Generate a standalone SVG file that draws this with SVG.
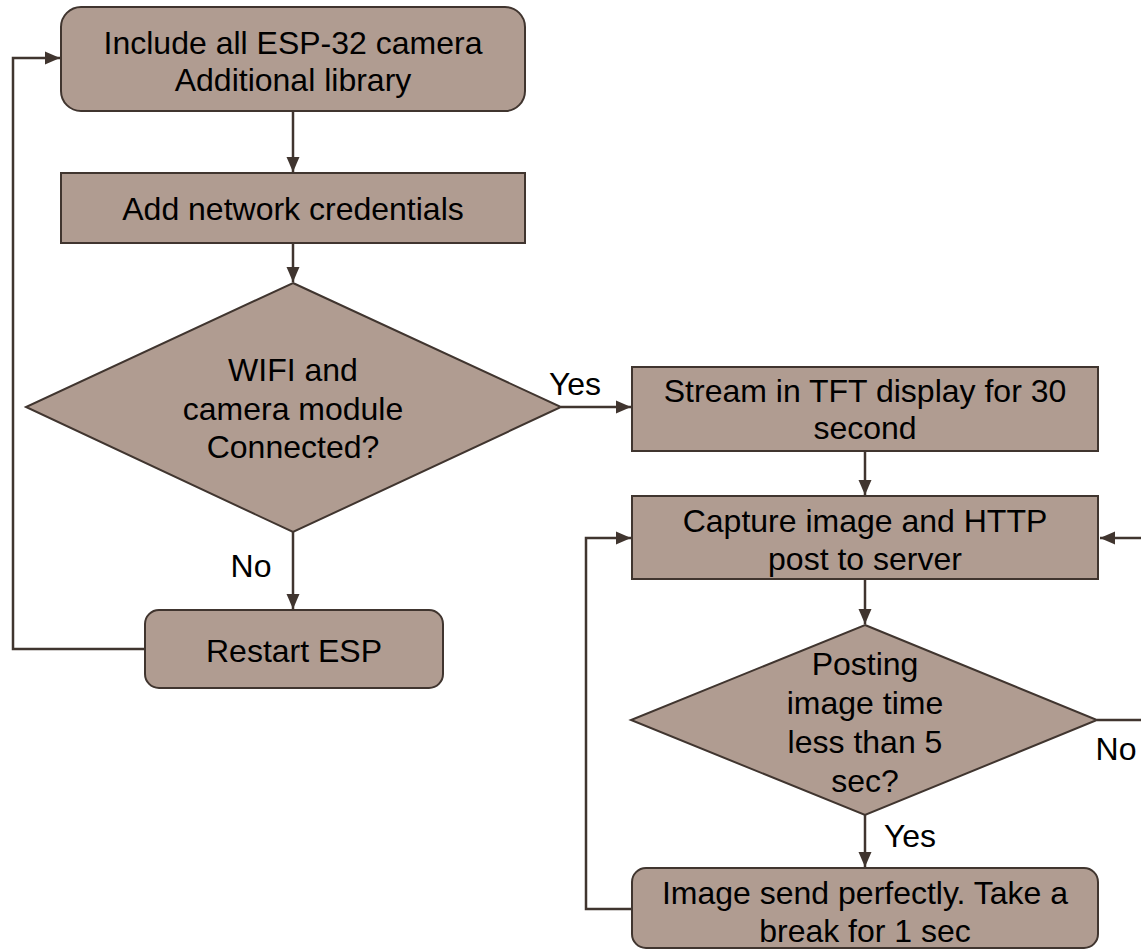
<svg xmlns="http://www.w3.org/2000/svg" width="1141" height="950" viewBox="0 0 1141 950">
  <defs>
    <marker id="arrow" markerWidth="15" markerHeight="15" refX="15" refY="7.5" orient="auto" markerUnits="userSpaceOnUse">
      <path d="M0,1 L15,7.5 L0,14 Z" fill="#40352f"/>
    </marker>
    <style>
      .node { fill: #b09c91; stroke: #40352f; stroke-width: 2; }
      .lbl { font-family: "Liberation Sans", Arial, sans-serif; font-size: 32px; fill: #000; text-anchor: middle; }
      .edge { fill: none; stroke: #40352f; stroke-width: 2.5; }
    </style>
  </defs>
  <rect width="1141" height="950" fill="#fff"/>

  <g id="connectors">
    <path class="edge" d="M293,111 V172" marker-end="url(#arrow)"/>
    <path class="edge" d="M293,243 V282" marker-end="url(#arrow)"/>
    <path class="edge" d="M561,407 H631" marker-end="url(#arrow)"/>
    <path class="edge" d="M293,532 V609" marker-end="url(#arrow)"/>
    <path class="edge" d="M145,649 H13 V58 H60" marker-end="url(#arrow)"/>
    <path class="edge" d="M865,451 V495" marker-end="url(#arrow)"/>
    <path class="edge" d="M1141,538 H1100" marker-end="url(#arrow)"/>
    <path class="edge" d="M632,909 H586 V538 H631" marker-end="url(#arrow)"/>
    <path class="edge" d="M865,579 V624" marker-end="url(#arrow)"/>
    <path class="edge" d="M1097,720 H1141"/>
    <path class="edge" d="M865,815 V867" marker-end="url(#arrow)"/>
    <text class="lbl" x="575" y="395">Yes</text>
    <text class="lbl" x="251" y="577">No</text>
    <text class="lbl" x="1116" y="760">No</text>
    <text class="lbl" x="910" y="847">Yes</text>
  </g>

  <g id="include-libs">
    <rect class="node" x="61" y="7" width="464" height="104" rx="20"/>
    <text class="lbl" x="293" y="54">Include all ESP-32 camera</text>
    <text class="lbl" x="293" y="91">Additional library</text>
  </g>

  <g id="add-credentials">
    <rect class="node" x="61" y="173" width="464" height="70"/>
    <text class="lbl" x="293" y="220">Add network credentials</text>
  </g>

  <g id="check-connection">
    <polygon class="node" points="293,283 561,407 293,532 26,407"/>
    <text class="lbl" x="293" y="381">WIFI and</text>
    <text class="lbl" x="293" y="420">camera module</text>
    <text class="lbl" x="293" y="458">Connected?</text>
  </g>

  <g id="restart-esp">
    <rect class="node" x="145" y="610" width="298" height="78" rx="14"/>
    <text class="lbl" x="294" y="662">Restart ESP</text>
  </g>

  <g id="stream-tft">
    <rect class="node" x="632" y="367" width="466" height="84"/>
    <text class="lbl" x="865" y="402">Stream in TFT display for 30</text>
    <text class="lbl" x="865" y="439">second</text>
  </g>

  <g id="capture-post">
    <rect class="node" x="632" y="496" width="466" height="83"/>
    <text class="lbl" x="865" y="532">Capture image and HTTP</text>
    <text class="lbl" x="865" y="570">post to server</text>
  </g>

  <g id="check-post-time">
    <polygon class="node" points="865,625 1097,720 865,815 631,720"/>
    <text class="lbl" x="865" y="675">Posting</text>
    <text class="lbl" x="865" y="714">image time</text>
    <text class="lbl" x="865" y="753">less than 5</text>
    <text class="lbl" x="865" y="792">sec?</text>
  </g>

  <g id="send-ok">
    <rect class="node" x="632" y="868" width="466" height="80" rx="14"/>
    <text class="lbl" x="865" y="904">Image send perfectly. Take a</text>
    <text class="lbl" x="865" y="942">break for 1 sec</text>
  </g>
</svg>
